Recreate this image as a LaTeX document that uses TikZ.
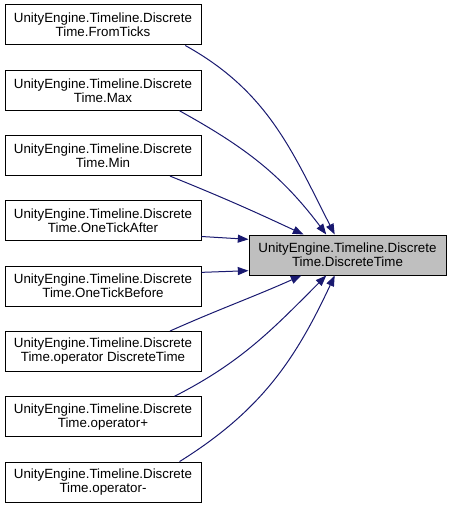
\documentclass[tikz,border=0pt]{standalone}
\usepackage{fontspec}
\setmainfont{Liberation Sans}
\usetikzlibrary{arrows.meta}
\definecolor{edge}{HTML}{191970}
\definecolor{hilite}{HTML}{BFBFBF}

\begin{document}
\begin{tikzpicture}[x=0.75pt, y=-0.75pt, font=\fontsize{10}{10.5}\selectfont,
    fn/.style={rectangle, draw=black, line width=0.75pt, fill=white, inner sep=0pt,
               minimum width=147pt, minimum height=30pt, align=center},
    call/.style={-{Triangle[length=8pt, width=6pt]}, edge, line width=0.75pt}]
  \useasboundingbox (0,0) rectangle (451,509);
  % callers
  \node[fn] (ft) at (103,25) {UnityEngine.Timeline.Discrete\\Time.FromTicks};
  \node[fn] (mx) at (103,90.3) {UnityEngine.Timeline.Discrete\\Time.Max};
  \node[fn] (mn) at (103,155.6) {UnityEngine.Timeline.Discrete\\Time.Min};
  \node[fn] (ota) at (103,220.9) {UnityEngine.Timeline.Discrete\\Time.OneTickAfter};
  \node[fn] (otb) at (103,286.2) {UnityEngine.Timeline.Discrete\\Time.OneTickBefore};
  \node[fn] (opdt) at (103,351.5) {UnityEngine.Timeline.Discrete\\Time.operator DiscreteTime};
  \node[fn] (opp) at (103,416.8) {UnityEngine.Timeline.Discrete\\Time.operator+};
  \node[fn] (opm) at (103,482.1) {UnityEngine.Timeline.Discrete\\Time.operator-};
  % callee
  \node[fn, fill=hilite, minimum width=147.75pt] (dt) at (347.5,255)
       {UnityEngine.Timeline.Discrete\\Time.DiscreteTime};
  \draw[call] (ft.-14) to[out=-29, in=117] (dt.122);
  \draw[call] (mx.-15) to[out=-29, in=127] (dt.136);
  \draw[call] (mn.-17) to[out=-22, in=155] (dt.155);
  \draw[call] (ota.-9) -- (dt.171);
  \draw[call] (otb.8) -- (dt.-171);
  \draw[call] (opdt.17) to[out=24, in=-156] (dt.-156);
  \draw[call] (opp.16) to[out=27, in=-135] (dt.-136);
  \draw[call] (opm.15) to[out=32, in=-115] (dt.-122);
\end{tikzpicture}
\end{document}
